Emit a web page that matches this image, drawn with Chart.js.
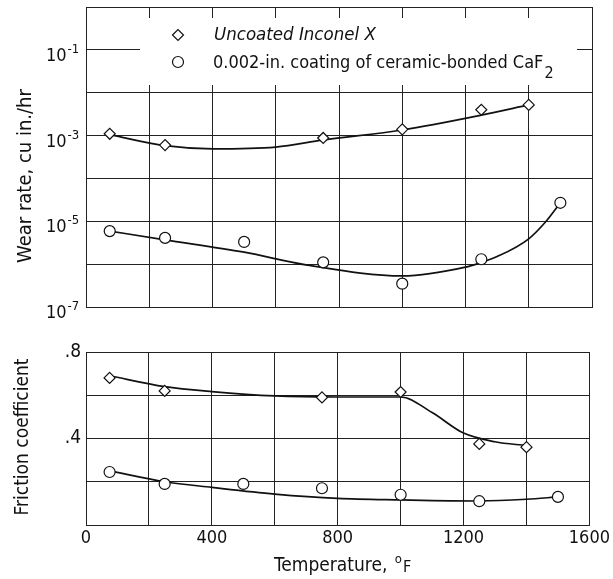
<!DOCTYPE html>
<html><head><meta charset="utf-8">
<script src="https://cdn.jsdelivr.net/npm/chart.js@4/dist/chart.umd.min.js"></script>
<style>
html,body{margin:0;padding:0;background:#fff;width:613px;height:579px;overflow:hidden}
.box{position:absolute;left:0;width:613px}
</style></head><body>
<div class="box" style="top:0;height:320px"><canvas id="c1"></canvas></div>
<div class="box" style="top:330px;height:249px"><canvas id="c2"></canvas></div>
<script>
// ---- tick labels ----
const xTickLabels = [0, 400, 800, 1200, 1600];
const wearTickExps = [-1, -3, -5, -7];
const frictionTickLabels = {'0.8': '.8', '0.4': '.4'};

// ---- Wear rate (cu in./hr) ----
const uncoatedTemp = [75, 250, 750, 1000, 1250, 1400];
const uncoatedWear = [1.1e-3, 6e-4, 8.8e-4, 1.4e-3, 4e-3, 5.2e-3];
const uncoatedWearFitTemp = [75, 250, 400, 600, 750, 1000, 1250, 1400];
const uncoatedWearFit = [1.05e-3, 5.8e-4, 4.9e-4, 5.4e-4, 7.9e-4, 1.35e-3, 3e-3, 5.2e-3];

const coatedTemp = [75, 250, 500, 750, 1000, 1250, 1500];
const coatedWear = [5.9e-6, 4.1e-6, 3.3e-6, 1.1e-6, 3.5e-7, 1.3e-6, 2.7e-5];
const coatedWearFitTemp = [75, 250, 500, 700, 1000, 1200, 1250, 1300, 1400, 1455, 1500];
const coatedWearFit = [5.9e-6, 3.7e-6, 1.9e-6, 9.5e-7, 5.3e-7, 8.5e-7, 1.1e-6, 1.5e-6, 3.9e-6, 1e-5, 2.7e-5];

// ---- Friction coefficient ----
const uncoatedFriction = [0.68, 0.62, 0.59, 0.615, 0.375, 0.36];
const uncoatedFrictionFitTemp = [75, 250, 400, 600, 800, 1000, 1100, 1200, 1300, 1400];
const uncoatedFrictionFit = [0.69, 0.64, 0.617, 0.597, 0.592, 0.592, 0.52, 0.425, 0.385, 0.367];

const coatedFriction = [0.245, 0.19, 0.19, 0.17, 0.14, 0.11, 0.13];
const coatedFrictionFitTemp = [75, 250, 400, 600, 800, 1000, 1250, 1400, 1500];
const coatedFrictionFit = [0.25, 0.2, 0.174, 0.143, 0.123, 0.116, 0.111, 0.119, 0.13];

const legendLabels = ['Uncoated Inconel X', '0.002-in. coating of ceramic-bonded CaF', '2'];
const wearTitle = 'Wear rate, cu in./hr';
const frictionTitle = 'Friction coefficient';
const xTitle = ['Temperature, ', 'o', 'F'];

const INK = '#111';
const NUM_FONT = '"DejaVu Sans Condensed", "DejaVu Sans", sans-serif';
const TXT_FONT = '"DejaVu Sans Condensed", "DejaVu Sans", sans-serif';

const pts = (xs, ys) => xs.map((x, i) => ({x, y: ys[i]}));

function fitSet(xs, ys) {
  return {type: 'line', data: pts(xs, ys), borderColor: INK, borderWidth: 1.7,
    pointRadius: 0, fill: false, cubicInterpolationMode: 'monotone', order: 2};
}
function markSet(xs, ys, style) {
  return {type: 'scatter', data: pts(xs, ys), pointStyle: style,
    pointRadius: 5.5, pointBackgroundColor: '#fff',
    pointBorderColor: INK, pointBorderWidth: 1.2, showLine: false, order: 1};
}
const gridOpts = {color: '#222', lineWidth: 1, drawTicks: false};
const xScaleBase = {type: 'linear', min: 0, max: 1600,
  afterBuildTicks: s => { s.ticks = []; for (let v = 0; v <= 1600; v += 200) s.ticks.push({value: v}); },
  grid: gridOpts, border: {color: '#222', width: 1}};

Chart.defaults.animation = false;
Chart.defaults.plugins.legend.display = false;
Chart.defaults.plugins.tooltip.enabled = false;

// ---------- top chart ----------
const decorTop = {
  id: 'decorTop',
  beforeDatasetsDraw(chart) {
    const ctx = chart.ctx;
    ctx.save(); ctx.fillStyle = '#fff'; ctx.fillRect(140, 18, 437, 67); ctx.restore();
  },
  afterDraw(chart) {
    const ctx = chart.ctx, ys = chart.scales.y;
    ctx.save();
    ctx.fillStyle = INK; ctx.strokeStyle = INK;
    ctx.textBaseline = 'alphabetic'; ctx.textAlign = 'left';
    wearTickExps.forEach(e => {
      const py = ys.getPixelForValue(Number('1e' + e));
      ctx.font = '18px ' + NUM_FONT;
      ctx.fillText('10', 46, py + 11);
      const w = ctx.measureText('10').width;
      ctx.font = '13px ' + NUM_FONT;
      ctx.fillText('-' + (-e), 46 + w + 1, py + 3);
    });
    // legend
    ctx.fillStyle = '#fff'; ctx.lineWidth = 1.2;
    Chart.helpers.drawPoint(ctx, {pointStyle: 'rectRot', radius: 5.5, borderWidth: 1.2}, 178, 35);
    Chart.helpers.drawPoint(ctx, {pointStyle: 'circle', radius: 5.5, borderWidth: 1.2}, 178, 62);
    ctx.fillStyle = INK;
    ctx.font = 'italic 18.5px ' + TXT_FONT;
    ctx.fillText(legendLabels[0], 214, 40);
    ctx.font = '18px ' + TXT_FONT;
    ctx.fillText(legendLabels[1], 213, 68);
    const w = ctx.measureText(legendLabels[1]).width;
    ctx.font = '16px ' + TXT_FONT;
    ctx.fillText(legendLabels[2], 213 + w + 1, 78);
    // y title
    ctx.translate(31, 176); ctx.rotate(-Math.PI / 2);
    ctx.textAlign = 'center'; ctx.font = '20px ' + TXT_FONT;
    ctx.fillText(wearTitle, 0, 0);
    ctx.restore();
  }
};

new Chart(document.getElementById('c1'), {
  data: {datasets: [
    fitSet(uncoatedWearFitTemp, uncoatedWearFit),
    fitSet(coatedWearFitTemp, coatedWearFit),
    markSet(uncoatedTemp, uncoatedWear, 'rectRot'),
    markSet(coatedTemp, coatedWear, 'circle')
  ]},
  options: {
    responsive: true, maintainAspectRatio: false,
    layout: {padding: {top: 7, right: 21, bottom: 13, left: 0}},
    scales: {
      x: Object.assign({}, xScaleBase, {ticks: {display: false}, afterFit: s => { s.height = 0; }}),
      y: {type: 'logarithmic', min: 1e-7, max: 1,
        afterBuildTicks: s => { s.ticks = []; for (let e = -7; e <= 0; e++) s.ticks.push({value: Number('1e' + e)}); },
        ticks: {display: false}, grid: gridOpts, border: {color: '#222', width: 1},
        afterFit: s => { s.width = 86; }}
    }
  },
  plugins: [decorTop]
});

// ---------- bottom chart ----------
const decorBottom = {
  id: 'decorBottom',
  afterDraw(chart) {
    const ctx = chart.ctx;
    ctx.save(); ctx.fillStyle = INK; ctx.textBaseline = 'alphabetic';
    ctx.font = '19px ' + TXT_FONT; ctx.textAlign = 'left';
    let x = 274;
    ctx.fillText(xTitle[0], x, 241); x += ctx.measureText(xTitle[0]).width + 2;
    ctx.font = '13px ' + TXT_FONT; ctx.fillText(xTitle[1], x, 233); x += ctx.measureText(xTitle[1]).width + 1;
    ctx.font = '16px ' + TXT_FONT; ctx.fillText(xTitle[2], x, 242);
    ctx.translate(28, 107); ctx.rotate(-Math.PI / 2);
    ctx.textAlign = 'center'; ctx.font = '19px ' + TXT_FONT;
    ctx.fillText(frictionTitle, 0, 0);
    ctx.restore();
  }
};

new Chart(document.getElementById('c2'), {
  data: {datasets: [
    fitSet(uncoatedFrictionFitTemp, uncoatedFrictionFit),
    fitSet(coatedFrictionFitTemp, coatedFrictionFit),
    markSet(uncoatedTemp, uncoatedFriction, 'rectRot'),
    markSet(coatedTemp, coatedFriction, 'circle')
  ]},
  options: {
    responsive: true, maintainAspectRatio: false,
    layout: {padding: {top: 22, right: 21, bottom: 0, left: 0}},
    scales: {
      x: Object.assign({}, xScaleBase, {
        ticks: {color: INK, font: {family: NUM_FONT, size: 18}, padding: 3, maxRotation: 0, autoSkip: false,
          callback: v => xTickLabels.includes(v) ? String(v) : ''},
        afterFit: s => { s.height = 54; }}),
      y: {type: 'linear', min: 0, max: 0.8,
        afterBuildTicks: s => { s.ticks = []; for (let i = 0; i <= 4; i++) s.ticks.push({value: i / 5}); },
        ticks: {color: INK, font: {family: NUM_FONT, size: 19}, padding: 5,
          callback: v => frictionTickLabels[String(Math.round(v * 10) / 10)] || ''},
        grid: gridOpts, border: {color: '#222', width: 1},
        afterFit: s => { s.width = 86; }}
    }
  },
  plugins: [decorBottom]
});
</script>
</body></html>
